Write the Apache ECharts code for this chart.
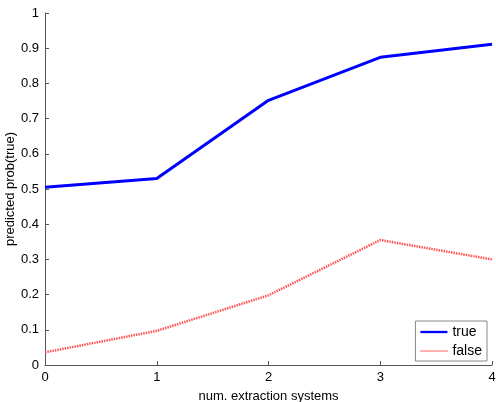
<!DOCTYPE html>
<html>
<head>
<meta charset="utf-8">
<script src="https://cdn.jsdelivr.net/npm/echarts@6/dist/echarts.min.js"></script>
<style>
html,body{margin:0;padding:0;background:#fff;}
#chart1{width:496px;height:402px;}
</style>
</head>
<body>
<div id="chart1"></div>
<script>
var categories = [0, 1, 2, 3, 4];
var trueValues = [0.505, 0.530, 0.752, 0.874, 0.911];
var falseValues = [0.036, 0.097, 0.198, 0.355, 0.300];

var myChart = echarts.init(document.getElementById("chart1"));
var font = "Liberation Sans, Arial, sans-serif";
var axisLine = {show: true, lineStyle: {color: '#555', width: 1}};
// dotted icon for the false entry
var dots = '';
for (var k = 0; k < 28; k += 2) {
    dots += 'M' + k + ',6L' + (k + 1) + ',6L' + (k + 1) + ',8L' + k + ',8Z';
}
var option = {
    animation: false,
    grid: {left: 45, right: 4, top: 13, bottom: 37, outerBoundsMode: 'none'},
    legend: {
        right: 9, bottom: 41, orient: 'vertical',
        backgroundColor: '#fff', borderColor: '#888', borderWidth: 1,
        padding: [4, 5, 3, 5], itemGap: 5, itemWidth: 27, itemHeight: 14,
        textStyle: {fontFamily: font, fontSize: 14, color: '#000'},
        data: [
            {name: 'true', icon: 'path://M0,5.8L28,5.8L28,8.2L0,8.2Z'},
            {name: 'false', icon: 'path://' + dots}
        ]
    },
    xAxis: {
        type: 'value', min: 0, max: 4, interval: 1,
        name: 'num. extraction systems', nameLocation: 'center', nameGap: 25,
        nameMoveOverlap: false,
        nameTextStyle: {fontFamily: font, fontSize: 13, color: '#000'},
        axisLine: axisLine,
        axisTick: {inside: true, length: 4, lineStyle: {color: '#555'}},
        axisLabel: {fontFamily: font, fontSize: 13, color: '#000', margin: 6},
        splitLine: {show: false}
    },
    yAxis: {
        type: 'value', min: 0, max: 1, interval: 0.1,
        name: 'predicted prob(true)', nameLocation: 'center', nameGap: 28,
        nameMoveOverlap: false,
        nameTextStyle: {fontFamily: font, fontSize: 13, color: '#000'},
        axisLine: axisLine,
        axisTick: {inside: true, length: 4, lineStyle: {color: '#555'}},
        axisLabel: {fontFamily: font, fontSize: 13, color: '#000', margin: 6,
            formatter: function (v) { return Math.round(v * 10) / 10 + ''; }},
        splitLine: {show: false}
    },
    series: [
        {
            name: 'true', type: 'line', symbol: 'none',
            data: categories.map(function (c, i) { return [c, trueValues[i]]; }),
            lineStyle: {color: '#0000ff', width: 3},
            itemStyle: {color: '#0000ff'}
        },
        {
            name: 'false', type: 'line', symbol: 'none',
            data: categories.map(function (c, i) { return [c, falseValues[i]]; }),
            lineStyle: {color: '#ff5555', width: 2.5, type: [1.5, 1]},
            itemStyle: {color: '#ff6666'}
        }
    ]
};
myChart.setOption(option);
</script>
</body>
</html>
